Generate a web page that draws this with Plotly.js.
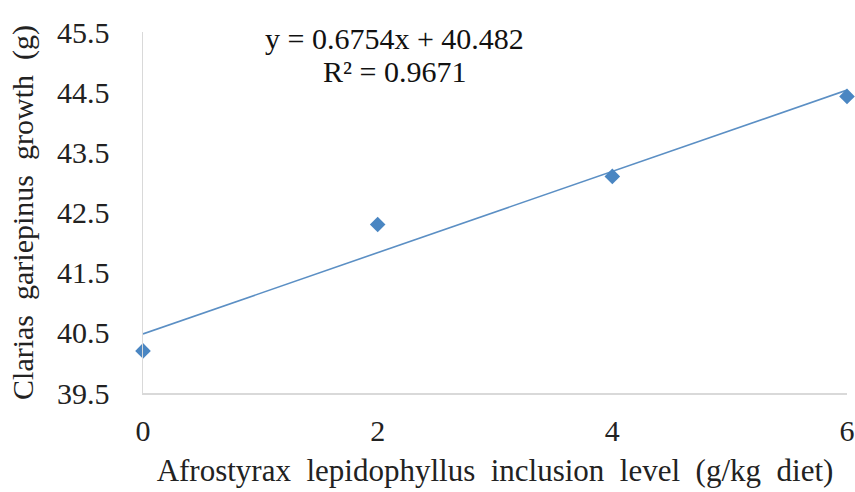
<!DOCTYPE html>
<html>
<head>
<meta charset="utf-8">
<script src="https://cdn.plot.ly/plotly-3.0.1.min.js"></script>
<style>html,body{margin:0;padding:0;background:#fff;}#chart{width:855px;height:492px;}</style>
</head>
<body>
<div id="chart"></div>
<script>
var inclusionLevels = [0, 2, 4, 6];
var growthValues = [40.2, 42.3, 43.1, 44.43];
var trendSlope = 0.6754;
var trendIntercept = 40.482;
var rSquared = 0.9671;
var yTickValues = [39.5, 40.5, 41.5, 42.5, 43.5, 44.5, 45.5];
var xTickValues = [0, 2, 4, 6];
var xTitleWords = ["Afrostyrax", "lepidophyllus", "inclusion", "level", "(g/kg", "diet)"];
var yTitleWords = ["Clarias", "gariepinus", "growth", "(g)"];

var trendX = [inclusionLevels[0], inclusionLevels[inclusionLevels.length - 1]];
var trendY = trendX.map(function (x) { return trendSlope * x + trendIntercept; });

var serif = "Liberation Serif";
var gap = "\u00a0 ";

var data = [
  {
    x: trendX, y: trendY, type: "scatter", mode: "lines",
    line: {color: "#5b8fc4", width: 1.6},
    hoverinfo: "skip", showlegend: false, cliponaxis: false
  },
  {
    x: inclusionLevels, y: growthValues, type: "scatter", mode: "markers",
    marker: {symbol: "diamond", size: 12, color: "#4a86c2"},
    showlegend: false, cliponaxis: false
  }
];

var layout = {
  width: 855, height: 492,
  margin: {l: 143, r: 8, t: 32, b: 99},
  paper_bgcolor: "#ffffff", plot_bgcolor: "#ffffff",
  font: {family: serif, color: "#222222"},
  xaxis: {
    range: [0, 6], tickvals: xTickValues, ticktext: xTickValues.map(String),
    showgrid: false, zeroline: false, showline: true, linecolor: "#d9d9d9", linewidth: 1.5,
    ticks: "", tickfont: {size: 30, family: serif, color: "#222"},
    ticklabelstandoff: 10,
    title: {text: xTitleWords.join(gap), font: {size: 31, family: serif, color: "#222"}, standoff: 14}
  },
  yaxis: {
    range: [39.5, 45.5], tickvals: yTickValues, ticktext: yTickValues.map(function (v) { return v.toFixed(1); }),
    showgrid: false, zeroline: false, showline: true, linecolor: "#d9d9d9", linewidth: 1.5,
    ticks: "", tickfont: {size: 30, family: serif, color: "#222"},
    ticklabelstandoff: 26,
    title: {text: yTitleWords.join(gap), font: {size: 30, family: serif, color: "#222"}, standoff: 14}
  },
  annotations: [
    {
      xref: "paper", yref: "paper", x: 0.357, y: 1.0, yshift: 12, xanchor: "center", yanchor: "top",
      text: "y = " + trendSlope + "x + " + trendIntercept,
      showarrow: false, font: {size: 30, family: serif, color: "#111"}
    },
    {
      xref: "paper", yref: "paper", x: 0.357, y: 1.0, yshift: -21, xanchor: "center", yanchor: "top",
      text: "R² = " + rSquared,
      showarrow: false, font: {size: 30, family: serif, color: "#111"}
    }
  ]
};

Plotly.newPlot("chart", data, layout, {displayModeBar: false, staticPlot: true});
</script>
</body>
</html>
